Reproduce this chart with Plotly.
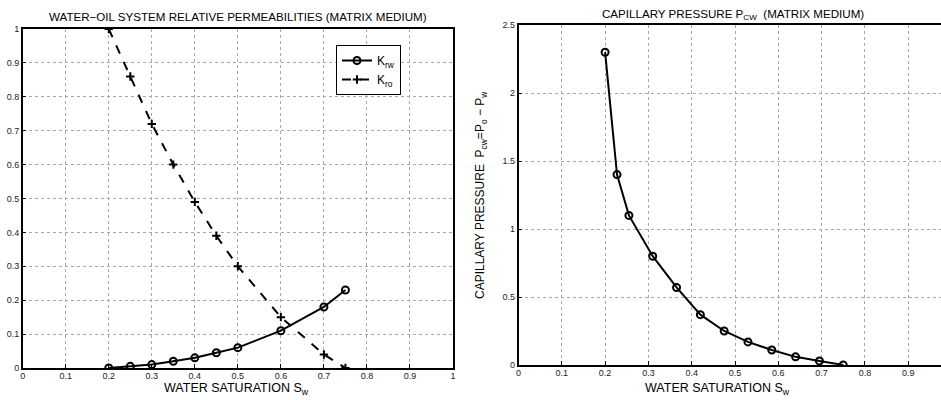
import plotly.graph_objects as go

# ---- data ----
sw_rel = [0.2, 0.25, 0.3, 0.35, 0.4, 0.45, 0.5, 0.6, 0.7, 0.75]
krw = [0.0, 0.005, 0.01, 0.02, 0.03, 0.045, 0.06, 0.11, 0.18, 0.23]
kro = [1.0, 0.86, 0.72, 0.60, 0.49, 0.39, 0.30, 0.15, 0.04, 0.0]

sw_pc = [0.2, 0.2275, 0.255, 0.31, 0.365, 0.42, 0.475, 0.53, 0.585, 0.64, 0.695, 0.75]
pcw = [2.3, 1.4, 1.1, 0.8, 0.57, 0.37, 0.25, 0.17, 0.11, 0.06, 0.03, 0.0]

W, H = 941, 400
FONT = "Liberation Sans, Arial, sans-serif"

fig = go.Figure()

fig.add_trace(go.Scatter(
    x=sw_rel, y=krw, mode="lines+markers", name="K<sub>rw</sub>",
    line=dict(color="black", width=2),
    marker=dict(symbol="circle-open", size=7, color="black", line=dict(width=2)),
    xaxis="x", yaxis="y"))
fig.add_trace(go.Scatter(
    x=sw_rel, y=kro, mode="lines+markers", name="K<sub>ro</sub>",
    line=dict(color="black", width=2, dash="dash"),
    marker=dict(symbol="cross-thin-open", size=6, color="black", line=dict(width=2, color="black")),
    xaxis="x", yaxis="y"))
fig.add_trace(go.Scatter(
    x=sw_pc, y=pcw, mode="lines+markers", showlegend=False,
    line=dict(color="black", width=2),
    marker=dict(symbol="circle-open", size=7, color="black", line=dict(width=2)),
    xaxis="x2", yaxis="y2"))

axis_common = dict(
    showline=True, linecolor="black", linewidth=1.5, automargin=False,
    ticks="inside", ticklen=4, tickcolor="black", tickwidth=1,
    showgrid=True, gridcolor="#a8a8a8", griddash="dot", gridwidth=1,
    zeroline=False, tickfont=dict(size=9, color="#222", family=FONT),
)

x1 = (22.7 / W, 453 / W)
y1 = (1 - 368 / H, 1 - 29 / H)
x2 = (518.5 / W, 1.0)
y2 = (1 - 365 / H, 1 - 25 / H)
x2max = (W - 518.5) / 433.0

fig.update_layout(
    width=W, height=H,
    margin=dict(l=0, r=0, t=0, b=0, pad=0, autoexpand=False),
    paper_bgcolor="white", plot_bgcolor="white",
    font=dict(family=FONT, color="black"),
    xaxis=dict(domain=x1, range=[0, 1], dtick=0.1, mirror=True, anchor="y",
               ticklabelstandoff=-2, **axis_common),
    yaxis=dict(domain=y1, range=[0, 1], dtick=0.1, mirror=True, anchor="x", **axis_common),
    xaxis2=dict(domain=x2, range=[0, x2max], dtick=0.1, mirror=True, anchor="y2",
                ticklabelstandoff=-2, **axis_common),
    yaxis2=dict(domain=y2, range=[0, 2.5], dtick=0.5, mirror=False, anchor="x2", **axis_common),
    legend=dict(x=336 / W, y=1 - 45 / H, xanchor="left", yanchor="top",
                bgcolor="white", bordercolor="black", borderwidth=1,
                font=dict(size=12, family=FONT), itemwidth=30,
                tracegroupgap=0),
    showlegend=True,
)

ann = [
    dict(text="WATER\u2212OIL SYSTEM RELATIVE PERMEABILITIES (MATRIX MEDIUM)",
         x=238 / W, y=1 - 17 / H, font=dict(size=11.6)),
    dict(text="CAPILLARY PRESSURE P<sub>CW</sub>  (MATRIX MEDIUM)",
         x=733 / W, y=1 - 15 / H, font=dict(size=11.6)),
    dict(text="WATER SATURATION S<sub>w</sub>", x=236 / W, y=1 - 389 / H, font=dict(size=12.5)),
    dict(text="WATER SATURATION S<sub>w</sub>", x=717 / W, y=1 - 389 / H, font=dict(size=12.5)),
    dict(text="CAPILLARY PRESSURE  P<sub>cw</sub>=P<sub>o</sub> \u2212 P<sub>w</sub>",
         x=481 / W, y=1 - 195 / H, textangle=-90, font=dict(size=12)),
]
for a in ann:
    fig.add_annotation(xref="paper", yref="paper", showarrow=False,
                       xanchor="center", yanchor="middle", **a)

fig.write_html(
    "out.html",
    config={"displayModeBar": False},
    post_script="document.body.style.margin='0px';document.body.style.overflow='hidden';",
)
